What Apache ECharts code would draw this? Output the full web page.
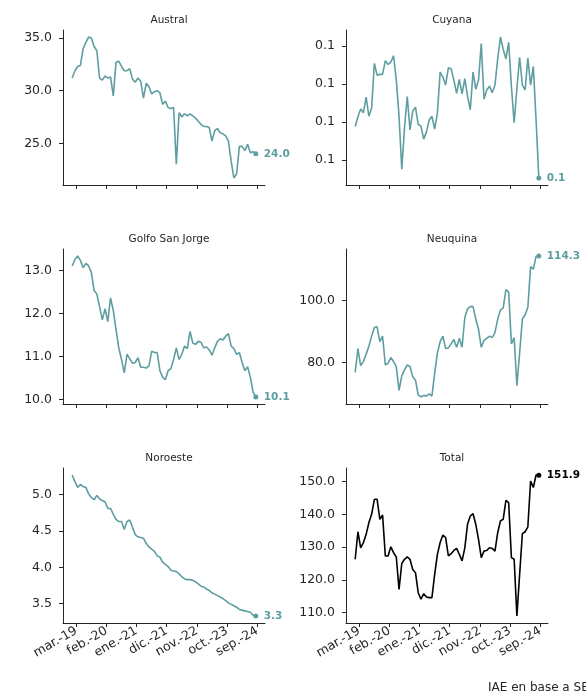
<!DOCTYPE html>
<html>
<head>
<meta charset="utf-8">
<script src="https://cdn.jsdelivr.net/npm/echarts@6/dist/echarts.min.js"></script>
<style>
  html, body { margin: 0; background: #fff; }
  #chart { width: 586px; height: 696px; }
</style>
</head>
<body>
<div id="chart"></div>
<script>
// serie mensual ene-19 .. ago-24 (68 meses), dato a mitad de mes
const firstMonth = '2019-01'
const tickMonths = ['2019-03', '2020-02', '2021-01', '2021-12', '2022-11', '2023-10', '2024-09']
const tickLabels = ['mar.-19', 'feb.-20', 'ene.-21', 'dic.-21', 'nov.-22', 'oct.-23', 'sep.-24']

const austral = [31.2, 31.9, 32.3, 32.4, 34.0, 34.6, 35.1, 35.0, 34.2, 33.8, 31.2, 31.0, 31.4, 31.2, 31.3, 29.5, 32.7, 32.8, 32.3, 31.9,
  31.9, 32.1, 31.1, 30.8, 31.2, 30.9, 29.3, 30.7, 30.4, 29.7, 29.9, 30.0, 29.8, 28.7, 29.0, 28.4, 28.3, 28.4, 23.0, 27.9,
  27.5, 27.8, 27.6, 27.8, 27.6, 27.4, 27.1, 26.8, 26.6, 26.6, 26.5, 25.2, 26.2, 26.4, 26.0, 25.9, 25.7, 25.2, 23.3, 21.7,
  22.1, 24.7, 24.7, 24.3, 24.9, 24.1, 24.2, 24.0]
const cuyana = [0.1088, 0.1113, 0.1134, 0.1124, 0.1165, 0.1115, 0.1137, 0.1254, 0.1223, 0.1225, 0.1225, 0.1261, 0.1251, 0.1257, 0.1274, 0.1210, 0.1115, 0.0976, 0.1085, 0.1167,
  0.1079, 0.1128, 0.1139, 0.1094, 0.1089, 0.1055, 0.1074, 0.1105, 0.1115, 0.1081, 0.1124, 0.1231, 0.1218, 0.1197, 0.1242, 0.1240, 0.1210, 0.1175, 0.1212, 0.1174,
  0.1214, 0.1167, 0.1132, 0.1231, 0.1186, 0.1210, 0.1306, 0.1160, 0.1184, 0.1194, 0.1177, 0.1197, 0.1266, 0.1323, 0.1291, 0.1266, 0.1309, 0.1193, 0.1098, 0.1188,
  0.1270, 0.1197, 0.1184, 0.1268, 0.1197, 0.1246, 0.1105, 0.0953]
const golfo = [13.10, 13.25, 13.33, 13.23, 13.06, 13.16, 13.10, 12.95, 12.53, 12.45, 12.15, 11.85, 12.11, 11.81, 12.36, 12.07, 11.62, 11.20, 10.93, 10.62,
  11.05, 10.95, 10.84, 10.86, 10.97, 10.75, 10.75, 10.73, 10.78, 11.12, 11.09, 11.09, 10.67, 10.52, 10.46, 10.67, 10.72, 10.93, 11.20, 10.93,
  11.05, 11.24, 11.18, 11.58, 11.31, 11.28, 11.35, 11.33, 11.20, 11.22, 11.15, 11.03, 11.20, 11.35, 11.41, 11.38, 11.47, 11.53, 11.24, 11.18,
  11.05, 11.09, 10.86, 10.67, 10.76, 10.52, 10.17, 10.06]
const neuquina = [76.8, 84.5, 79.0, 80.3, 82.7, 85.2, 88.5, 91.3, 91.5, 86.7, 88.5, 79.2, 79.8, 81.6, 80.3, 78.7, 71.0, 75.7, 77.6, 79.2,
  78.7, 75.4, 74.3, 69.6, 68.9, 69.4, 69.2, 69.9, 69.2, 76.5, 83.1, 86.7, 88.5, 84.5, 84.7, 86.0, 87.4, 84.9, 87.8, 84.9,
  94.5, 97.3, 98.0, 98.0, 94.0, 90.7, 84.9, 87.1, 87.8, 88.5, 88.0, 89.6, 94.0, 96.9, 97.6, 103.5, 102.7, 86.0, 88.0, 72.5,
  83.1, 94.0, 95.4, 97.8, 110.9, 110.1, 114.2, 114.3]
const noroeste = [5.27, 5.18, 5.10, 5.14, 5.11, 5.10, 5.01, 4.96, 4.93, 4.99, 4.94, 4.92, 4.90, 4.81, 4.81, 4.73, 4.66, 4.63, 4.63, 4.52,
  4.63, 4.65, 4.55, 4.45, 4.42, 4.41, 4.40, 4.33, 4.28, 4.25, 4.22, 4.16, 4.14, 4.07, 4.04, 4.01, 3.96, 3.95, 3.94, 3.91,
  3.87, 3.84, 3.83, 3.83, 3.82, 3.80, 3.77, 3.74, 3.73, 3.70, 3.68, 3.65, 3.63, 3.61, 3.59, 3.57, 3.54, 3.51, 3.49, 3.47,
  3.45, 3.42, 3.41, 3.40, 3.39, 3.38, 3.34, 3.33]
const total = [126.3, 134.7, 129.8, 131.4, 133.9, 137.5, 140.0, 144.6, 144.6, 138.5, 139.8, 127.3, 127.3, 130.1, 128.3, 127.0, 117.1, 125.0, 126.3, 127.0,
  126.3, 123.2, 122.2, 116.1, 114.1, 115.8, 114.8, 114.6, 114.6, 121.7, 127.8, 131.4, 133.7, 132.9, 127.3, 128.0, 129.0, 129.6, 127.8, 125.8,
  129.8, 137.0, 139.5, 140.2, 137.0, 132.4, 126.8, 128.8, 129.0, 129.8, 129.6, 128.8, 134.4, 138.0, 138.5, 144.3, 143.6, 126.8, 126.3, 109.0,
  121.7, 134.1, 134.7, 136.2, 150.2, 148.2, 152.0, 151.9]

const panels = [
  { title: 'Austral', values: austral, yTicks: [25, 30, 35] },
  { title: 'Cuyana', values: cuyana, yTicks: [0.10, 0.11, 0.12, 0.13] },
  { title: 'Golfo San Jorge', values: golfo, yTicks: [10, 11, 12, 13] },
  { title: 'Neuquina', values: neuquina, yTicks: [80, 100] },
  { title: 'Noroeste', values: noroeste, yTicks: [3.5, 4.0, 4.5, 5.0] },
  { title: 'Total', values: total, yTicks: [110, 120, 130, 140, 150] }
]

const TEAL = '#5f9ea0'
const INK = '#262626'
const FONT = 'DejaVu Sans'

// indice de mes relativo a firstMonth (ticks el dia 1 => -0.5)
const monthIndex = (ym) => {
  const [y, m] = ym.split('-').map(Number)
  const [y0, m0] = firstMonth.split('-').map(Number)
  return (y - y0) * 12 + (m - m0)
}
const tickPos = tickMonths.map((m) => monthIndex(m) - 0.5)

const colLeft = [63, 346]
const rowTop = [30, 249, 468]
const gridW = 202
const gridH = 155

const chart = echarts.init(document.getElementById('chart'), null, { renderer: 'canvas' })

const grids = []
const xAxes = []
const yAxes = []
const series = []
const titles = []

panels.forEach((p, k) => {
  const col = k % 2
  const row = Math.floor(k / 2)
  const n = p.values.length
  const lo = Math.min(...p.values)
  const hi = Math.max(...p.values)
  const pad = (hi - lo) * 0.05
  const xPad = (n - 1) * 0.05
  const color = p.title === 'Total' ? '#000' : TEAL

  grids.push({ left: colLeft[col], top: rowTop[row], width: gridW, height: gridH })
  titles.push({
    text: p.title,
    left: colLeft[col] + gridW / 2,
    top: rowTop[row] - 20,
    textAlign: 'center',
    textStyle: { fontFamily: FONT, fontSize: 10.5, fontWeight: 'normal', color: INK }
  })
  xAxes.push({
    type: 'value',
    gridIndex: k,
    min: -xPad,
    max: n - 1 + xPad,
    splitLine: { show: false },
    axisLine: { onZero: false, lineStyle: { color: INK, width: 1 } },
    axisTick: { length: 4, lineStyle: { color: INK }, customValues: tickPos },
    axisLabel: {
      show: row === 2,
      customValues: tickPos,
      rotate: 30,
      margin: 7,
      fontFamily: FONT,
      fontSize: 12.5,
      color: INK,
      formatter: (v) => tickLabels[tickPos.findIndex((t) => Math.abs(t - v) < 1e-6)] || ''
    }
  })
  yAxes.push({
    type: 'value',
    gridIndex: k,
    min: lo - pad,
    max: hi + pad,
    splitLine: { show: false },
    axisLine: { show: true, onZero: false, lineStyle: { color: INK, width: 1 } },
    axisTick: { show: true, length: 4, lineStyle: { color: INK }, customValues: p.yTicks },
    axisLabel: {
      customValues: p.yTicks,
      margin: 11,
      fontFamily: FONT,
      fontSize: 12.5,
      color: INK,
      formatter: (v) => v.toFixed(1)
    }
  })
  series.push({
    type: 'line',
    xAxisIndex: k,
    yAxisIndex: k,
    data: p.values.map((v, i) => [i, v]),
    lineStyle: { color, width: 1.6 },
    itemStyle: { color },
    showSymbol: true,
    showAllSymbol: true,
    symbol: (val, params) => (params.dataIndex === n - 1 ? 'circle' : 'none'),
    symbolSize: 5,
    animation: false,
    endLabel: {
      show: true,
      distance: 8,
      formatter: (prm) => prm.value[1].toFixed(1),
      color,
      fontFamily: FONT,
      fontSize: 10.5,
      fontWeight: 'bold'
    }
  })
})

chart.setOption({
  animation: false,
  title: titles,
  grid: grids,
  xAxis: xAxes,
  yAxis: yAxes,
  series,
  graphic: [{
    type: 'text',
    left: 488,
    top: 682,
    style: { text: 'IAE en base a SE', font: '12px "DejaVu Sans"', fill: INK }
  }]
})
</script>
</body>
</html>
